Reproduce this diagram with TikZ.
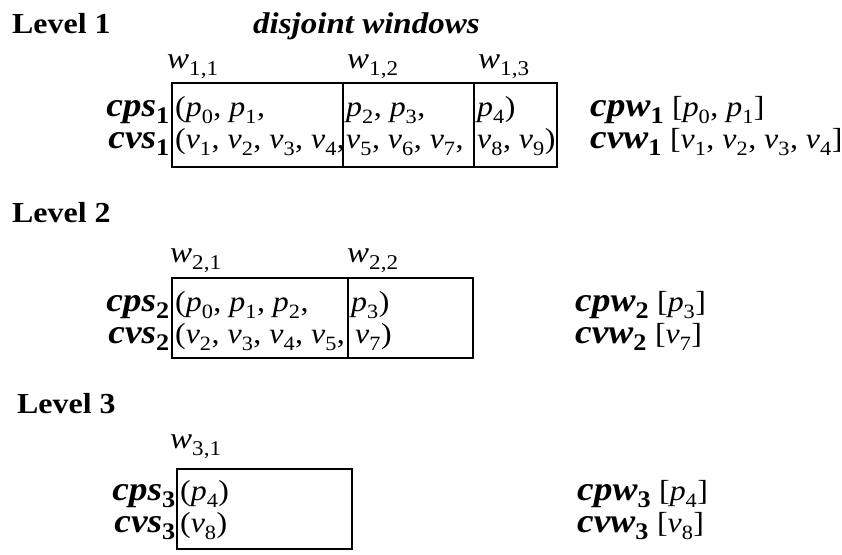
\documentclass[tikz,border=0pt]{standalone}
\usepackage{fontspec}
\setmainfont{Liberation Serif}[FakeStretch=1.1]

% italic letter with upright index, and the bold version
\newcommand{\ix}[2]{\textit{#1}\textsubscript{\raisebox{-0.18em}{#2}}}
\newcommand{\bx}[2]{{\fontsize{34}{40}\selectfont\textbf{\textit{#1}\textsubscript{#2}}}}

\begin{document}
\begin{tikzpicture}[
    x=1pt, y=-1pt,
    level/.style={anchor=base west, inner sep=0pt, font=\fontsize{29}{34}\selectfont\bfseries},
    win/.style={anchor=base west, inner sep=0pt, font=\fontsize{30}{34}\selectfont},
    seqname/.style={anchor=base east, inner sep=0pt},
    seq/.style={anchor=base west, inner sep=0pt, font=\fontsize{29}{34}\selectfont},
    wbox/.style={line width=2pt}
]
\useasboundingbox (0,0) rectangle (842,554);

% Level 1
\node[level] (lev1) at (12,33) {Level 1};
\node[level, font=\fontsize{30}{34}\selectfont\bfseries\itshape] (disj) at (253,33) {disjoint windows};
\node[win] (w11) at (167,68) {\ix{w}{1,1}};
\node[win] (w12) at (347,68) {\ix{w}{1,2}};
\node[win] (w13) at (478,68) {\ix{w}{1,3}};
\draw[wbox] (172,83) rectangle (557,167);
\draw[wbox] (343,83) -- (343,167);
\draw[wbox] (474,83) -- (474,167);
\node[seqname] (cps1) at (170,116) {\bx{cps}{1}};
\node[seqname] (cvs1) at (170,148) {\bx{cvs}{1}};
\node[seq] (p11) at (175,116) {(\ix{p}{0}, \ix{p}{1},};
\node[seq] (p12) at (346,116) {\ix{p}{2}, \ix{p}{3},};
\node[seq] (p13) at (477,116) {\ix{p}{4})};
\node[seq] (v11) at (175,148) {(\ix{v}{1}, \ix{v}{2}, \ix{v}{3}, \ix{v}{4},};
\node[seq] (v12) at (346,148) {\ix{v}{5}, \ix{v}{6}, \ix{v}{7},};
\node[seq] (v13) at (477,148) {\ix{v}{8}, \ix{v}{9})};
\node[seq] (cpw1) at (590,116) {\bx{cpw}{1} [\ix{p}{0}, \ix{p}{1}]};
\node[seq] (cvw1) at (590,148) {\bx{cvw}{1} [\ix{v}{1}, \ix{v}{2}, \ix{v}{3}, \ix{v}{4}]};

% Level 2
\node[level] (lev2) at (12,222) {Level 2};
\node[win] (w21) at (170,262) {\ix{w}{2,1}};
\node[win] (w22) at (347,262) {\ix{w}{2,2}};
\draw[wbox] (172,278) rectangle (473,358);
\draw[wbox] (348,278) -- (348,358);
\node[seqname] (cps2) at (170,311) {\bx{cps}{2}};
\node[seqname] (cvs2) at (170,343) {\bx{cvs}{2}};
\node[seq] (p21) at (175,311) {(\ix{p}{0}, \ix{p}{1}, \ix{p}{2},};
\node[seq] (p22) at (351,311) {\ix{p}{3})};
\node[seq] (v21) at (175,343) {(\ix{v}{2}, \ix{v}{3}, \ix{v}{4}, \ix{v}{5},};
\node[seq] (v22) at (355,343) {\ix{v}{7})};
\node[seq] (cpw2) at (575,311) {\bx{cpw}{2} [\ix{p}{3}]};
\node[seq] (cvw2) at (575,343) {\bx{cvw}{2} [\ix{v}{7}]};

% Level 3
\node[level] (lev3) at (17,413) {Level 3};
\node[win] (w31) at (170,448) {\ix{w}{3,1}};
\draw[wbox] (177,469) rectangle (352,549);
\node[seqname] (cps3) at (176,500) {\bx{cps}{3}};
\node[seqname] (cvs3) at (176,532) {\bx{cvs}{3}};
\node[seq] (p31) at (180,500) {(\ix{p}{4})};
\node[seq] (v31) at (180,532) {(\ix{v}{8})};
\node[seq] (cpw3) at (577,500) {\bx{cpw}{3} [\ix{p}{4}]};
\node[seq] (cvw3) at (577,532) {\bx{cvw}{3} [\ix{v}{8}]};

\end{tikzpicture}
\end{document}
